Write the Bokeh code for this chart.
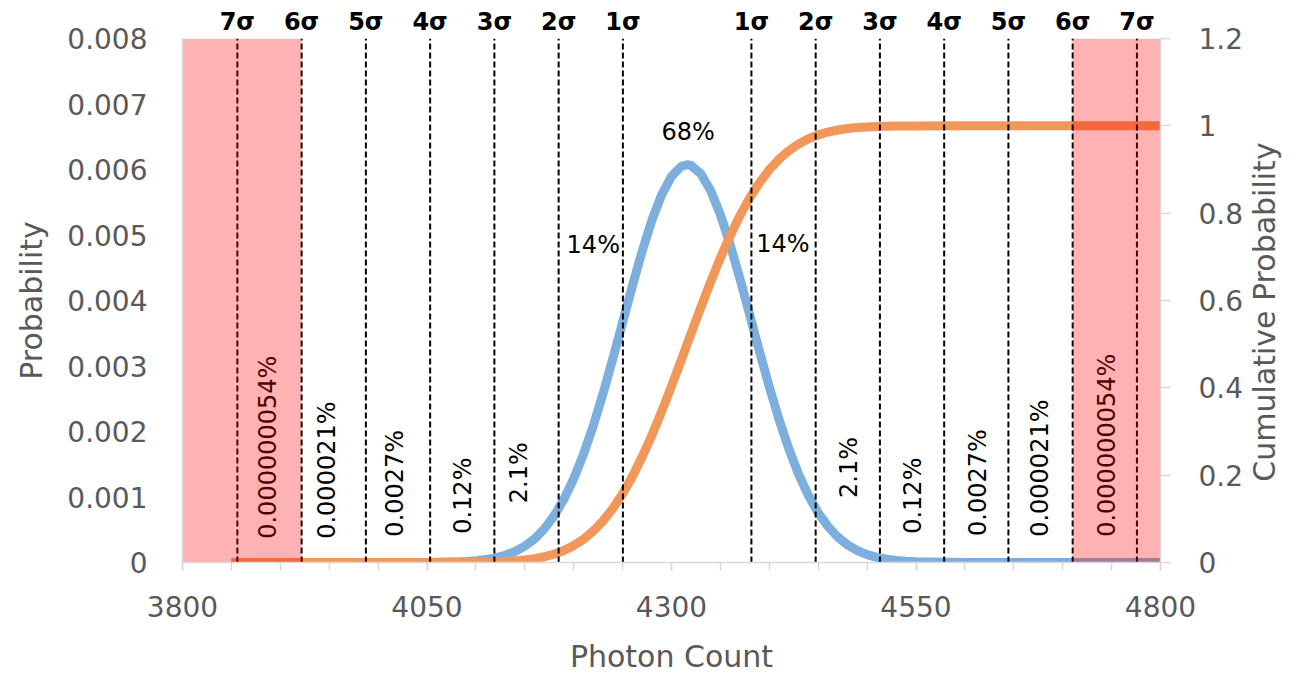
import math
from bokeh.plotting import figure
from bokeh.models import Range1d, LinearAxis, FixedTicker
from bokeh.core.properties import value
from bokeh.embed import file_html
from bokeh.resources import INLINE

# ---------------- data ----------------
photon_count = [3850, 3900, 3950, 4000, 4050, 4080, 4090,
                4100, 4110, 4120, 4130, 4140, 4150, 4160, 4170, 4180, 4190,
                4200, 4210, 4220, 4230, 4240, 4250, 4260, 4270, 4280, 4290,
                4300, 4310, 4316, 4320, 4330, 4340, 4350, 4360, 4370, 4380, 4390,
                4400, 4410, 4420, 4430, 4440, 4450, 4460, 4470, 4480, 4490,
                4500, 4510, 4520, 4530, 4540, 4550,
                4600, 4650, 4700, 4750, 4800]
probability = [0, 0, 0, 0.00000006, 0.0000017, 0.0000096, 0.0000164,
               0.0000273, 0.0000445, 0.0000709, 0.000110, 0.000168, 0.000250, 0.000362, 0.000514, 0.000713, 0.000966,
               0.001278, 0.001652, 0.002088, 0.002578, 0.003110, 0.003666, 0.004222, 0.004752, 0.005226, 0.005615,
               0.005895, 0.006047, 0.006072, 0.006061, 0.005936, 0.005680, 0.005311, 0.004852, 0.004331, 0.003778, 0.003220,
               0.002681, 0.002182, 0.001735, 0.001347, 0.001023, 0.000759, 0.000550, 0.000389, 0.000269, 0.000182,
               0.000120, 0.0000776, 0.0000490, 0.0000301, 0.0000182, 0.0000107,
               0.0000005, 0, 0, 0, 0]
cumulative = [0, 0, 0, 0.000001, 0.00003, 0.00017, 0.00029,
              0.0005, 0.00086, 0.00143, 0.00232, 0.00369, 0.00575, 0.0088, 0.01314, 0.0192, 0.02756,
              0.0387, 0.0534, 0.0720, 0.0953, 0.1237, 0.1576, 0.1971, 0.2419, 0.2919, 0.3461,
              0.4038, 0.4636, 0.5, 0.5243, 0.5844, 0.6426, 0.6976, 0.7485, 0.7944, 0.8350, 0.8699,
              0.8995, 0.9238, 0.9433, 0.9586, 0.9705, 0.9793, 0.9858, 0.9905, 0.99372, 0.9960,
              0.99745, 0.9984, 0.99905, 0.99944, 0.99967, 0.99982,
              0.99999, 1, 1, 1, 1]

sigma_x = [3856.1, 3921.8, 3987.5, 4053.2, 4118.9, 4184.6, 4250.3,
           4381.7, 4447.4, 4513.1, 4578.8, 4644.5, 4710.2, 4775.9]
sigma_labels = ["7σ", "6σ", "5σ", "4σ", "3σ", "2σ", "1σ",
                "1σ", "2σ", "3σ", "4σ", "5σ", "6σ", "7σ"]

tail_pct = ["0.000000054%", "0.000021%", "0.0027%", "0.12%", "2.1%",
            "2.1%", "0.12%", "0.0027%", "0.000021%", "0.000000054%"]
tail_x = [3887, 3948, 4017, 4087, 4144, 4481, 4547, 4613, 4677, 4745]
tail_y = [0.00176, 0.00141, 0.00121, 0.00102, 0.00137,
          0.00145, 0.00102, 0.00122, 0.00144, 0.00179]

core_pct = ["14%", "68%", "14%"]
core_x = [4220, 4317, 4414]
core_y = [0.00484, 0.00658, 0.00487]

x_ticks = [3800, 4050, 4300, 4550, 4800]
x_minor_ticks = [3800, 3850, 3900, 3950, 4000, 4050, 4100, 4150, 4200, 4250, 4300,
                 4350, 4400, 4450, 4500, 4550, 4600, 4650, 4700, 4750, 4800]
prob_ticks = [0, 0.001, 0.002, 0.003, 0.004, 0.005, 0.006, 0.007, 0.008]
prob_tick_labels = ["0", "0.001", "0.002", "0.003", "0.004", "0.005", "0.006", "0.007", "0.008"]
cum_ticks = [0, 0.2, 0.4, 0.6, 0.8, 1.0, 1.2]
cum_tick_labels = ["0", "0.2", "0.4", "0.6", "0.8", "1", "1.2"]

right_title = "Cumulative Probability"
right_title_start = 0.185   # where the bottom-to-top title text begins (cumulative scale)

# ---------------- styling ----------------
FONT = "DejaVu Sans"
GREY_TXT = "#595959"
GREY_LINE = "#D9D9D9"
BLUE = "#7CAFDD"
ORANGE = "#F19759"

p = figure(width=1302, height=678,
           x_range=Range1d(x_ticks[0], x_ticks[-1]),
           y_range=Range1d(prob_ticks[0], prob_ticks[-1]),
           output_backend="svg", toolbar_location=None,
           min_border_left=182, min_border_right=142,
           min_border_top=38, min_border_bottom=116)
p.extra_y_ranges = {"cum": Range1d(cum_ticks[0], cum_ticks[-1])}
p.xgrid.visible = False
p.ygrid.visible = False
p.outline_line_color = None
p.background_fill_color = "white"
p.border_fill_color = "white"

# bottom axis
xa = p.xaxis[0]
xa.ticker = FixedTicker(ticks=x_ticks, minor_ticks=x_minor_ticks)
xa.axis_line_color = GREY_LINE
xa.axis_line_width = 1.5
xa.major_tick_line_color = GREY_LINE
xa.major_tick_line_width = 1.5
xa.major_tick_in = 0
xa.major_tick_out = 8
xa.minor_tick_line_color = GREY_LINE
xa.minor_tick_line_width = 1.5
xa.minor_tick_in = 0
xa.minor_tick_out = 8
xa.major_label_text_font = FONT
xa.major_label_text_font_size = "28px"
xa.major_label_text_color = GREY_TXT
xa.major_label_standoff = 25
xa.axis_label = "Photon Count"
xa.axis_label_text_font = FONT
xa.axis_label_text_font_size = "30px"
xa.axis_label_text_font_style = "normal"
xa.axis_label_text_color = GREY_TXT
xa.axis_label_standoff = 19

# left axis
ya = p.yaxis[0]
ya.ticker = FixedTicker(ticks=prob_ticks)
ya.major_label_overrides = dict(zip(prob_ticks, prob_tick_labels))
ya.axis_line_color = GREY_LINE
ya.axis_line_width = 1.5
ya.major_tick_line_color = None
ya.minor_tick_line_color = None
ya.major_tick_out = 0
ya.major_tick_in = 0
ya.major_label_text_font = FONT
ya.major_label_text_font_size = "28px"
ya.major_label_text_color = GREY_TXT
ya.major_label_standoff = 35
ya.axis_label = "Probability"
ya.axis_label_text_font = FONT
ya.axis_label_text_font_size = "30px"
ya.axis_label_text_font_style = "normal"
ya.axis_label_text_color = GREY_TXT
ya.axis_label_standoff = 15

# right axis (cumulative)
ra = LinearAxis(y_range_name="cum", ticker=FixedTicker(ticks=cum_ticks))
ra.major_label_overrides = dict(zip(cum_ticks, cum_tick_labels))
ra.axis_line_color = GREY_LINE
ra.axis_line_width = 1.5
ra.major_tick_line_color = GREY_LINE
ra.major_tick_line_width = 1.5
ra.major_tick_in = 0
ra.major_tick_out = 10
ra.minor_tick_line_color = None
ra.major_label_text_font = FONT
ra.major_label_text_font_size = "28px"
ra.major_label_text_color = GREY_TXT
ra.major_label_standoff = 28
p.add_layout(ra, "right")

# right-side title, reading bottom-to-top like the reference
rt = LinearAxis(y_range_name="cum", ticker=FixedTicker(ticks=[right_title_start]))
rt.major_label_overrides = {right_title_start: right_title}
rt.major_label_orientation = math.pi / 2
rt.axis_line_color = None
rt.major_tick_line_color = None
rt.minor_tick_line_color = None
rt.major_tick_out = 0
rt.major_tick_in = 0
rt.major_label_text_font = FONT
rt.major_label_text_font_size = "30px"
rt.major_label_text_color = GREY_TXT
rt.major_label_standoff = 18
p.add_layout(rt, "right")

# top axis carrying the sigma labels
ta = LinearAxis(ticker=FixedTicker(ticks=sigma_x))
ta.major_label_overrides = dict(zip(sigma_x, sigma_labels))
ta.axis_line_color = None
ta.major_tick_line_color = None
ta.minor_tick_line_color = None
ta.major_tick_out = 0
ta.major_tick_in = 0
ta.major_label_text_font = FONT
ta.major_label_text_font_size = "24px"
ta.major_label_text_font_style = "bold"
ta.major_label_text_color = "black"
ta.major_label_standoff = 3
p.add_layout(ta, "above")

# curves
p.line(photon_count, probability, line_color=BLUE, line_width=9, line_join="round")
p.line(photon_count, cumulative, y_range_name="cum", line_color=ORANGE, line_width=9, line_join="round")

# sigma lines
p.segment(x0=sigma_x, y0=[prob_ticks[0]] * len(sigma_x), x1=sigma_x, y1=[prob_ticks[-1]] * len(sigma_x),
          line_color="black", line_width=2, line_dash="6 3")

# percentage labels
p.text(x=tail_x, y=tail_y, text=tail_pct, angle=math.pi / 2,
       text_align="center", text_baseline="middle",
       text_font=value(FONT), text_font_size="24px", text_color="black")
p.text(x=core_x, y=core_y, text=core_pct,
       text_align="center", text_baseline="middle",
       text_font=value(FONT), text_font_size="24px", text_color="black")

# red shaded tails (on top)
p.quad(left=[x_ticks[0], sigma_x[12]], right=[sigma_x[1], x_ticks[-1]],
       bottom=prob_ticks[0], top=prob_ticks[-1],
       fill_color="red", fill_alpha=0.3, line_color=None)

open("out.html", "w").write(file_html(p, INLINE))
